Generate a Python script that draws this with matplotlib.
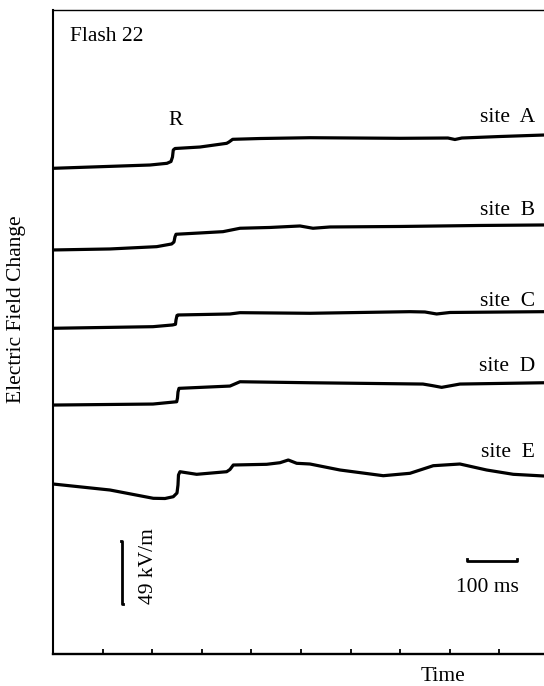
import matplotlib
matplotlib.use("Agg")
import matplotlib.pyplot as plt
import numpy as np

# ---- data (time in ms, field change in kV/m relative to trace start) ----
site_names = ["site  A", "site  B", "site  C", "site  D", "site  E"]

t_A = [0, 195.6, 229.8, 237.9, 240.9, 242.5, 246, 296.4, 350.2, 354.8, 362.3,
       417.3, 518.1, 699.6, 796.3, 810.4, 824.4, 901.2, 989.9]
e_A = [0, 2.57, 3.89, 5.29, 8.79, 14.23, 15.40, 16.56, 19.44, 20.45, 22.55,
       23.17, 23.79, 23.33, 23.56, 22.40, 23.56, 24.73, 25.89]

t_B = [0, 114.9, 209.1, 239.3, 243.9, 245.9, 248, 296.4, 342.7, 377, 437.5,
       498, 524.2, 558.4, 699.6, 860.9, 989.9]
e_B = [0, 0.78, 2.57, 4.67, 6.22, 10.11, 12.21, 13.22, 14.23, 16.88, 17.50,
       18.66, 16.88, 17.88, 18.27, 19.05, 19.44]

t_C = [0, 201.6, 240.9, 247, 248, 250, 252, 356.8, 377, 518.1, 719.7, 749.9,
       773.5, 800.6, 989.9]
e_C = [0, 1.24, 2.57, 3.11, 6.45, 9.95, 10.34, 11.12, 12.13, 11.66, 12.91,
       12.67, 11.12, 12.29, 12.91]

t_D = [0, 201.6, 249.4, 251, 252, 254, 356.8, 377, 518.1, 745.9, 764.1,
       783.6, 820.5, 989.9]
e_D = [0, 0.78, 2.57, 5.44, 10.11, 12.99, 14.77, 18.12, 17.34, 16.33, 15.16,
       13.76, 16.33, 17.34]

t_E = [0, 114.9, 202.2, 225.8, 242.5, 250, 252, 253, 256, 266.1, 289.7,
       350.2, 356.8, 363.5, 430.9, 457.7, 474.4, 491.4, 518.1, 578.6, 665.9,
       719.7, 766.7, 820.5, 874.3, 928, 989.9]
e_E = [0, -4.67, -11.12, -11.28, -9.88, -7.00, -0.78, 6.99, 9.56, 8.94, 7.54,
       9.56, 11.28, 14.77, 15.32, 16.56, 18.66, 16.10, 15.55, 10.89, 6.45,
       8.32, 14.23, 15.55, 10.89, 7.54, 6.22]

times = [t_A, t_B, t_C, t_D, t_E]
fields = [e_A, e_B, e_C, e_D, e_E]

# vertical stacking offsets of the traces (kV/m)
offsets = [377.7, 314.2, 253.3, 193.6, 132.2]
label_y = [413.4, 341.4, 270.6, 219.7, 152.9]

tick_times = [100, 200, 300, 400, 500, 600, 700, 800, 900]
time_bar = [835, 935]      # 100 ms scale bar
field_bar = [38.9, 87.9]   # 49 kV/m scale bar

# ---- figure ----
plt.rcParams["font.family"] = ["Liberation Serif", "DejaVu Serif"]
fig = plt.figure(figsize=(5.44, 6.86), dpi=100)
ax = fig.add_axes([53 / 544, 32 / 686, 491 / 544, 643.6 / 686])

for t, e, off in zip(times, fields, offsets):
    ax.plot(t, np.array(e) + off, color="black", lw=2.3,
            solid_joinstyle="round", solid_capstyle="round")

fs = 15.5
for name, ly in zip(site_names, label_y):
    ax.text(972, ly, name, ha="right", va="baseline", fontsize=fs)

ax.text(247, 411.4, "R", ha="center", va="baseline", fontsize=fs)
ax.text(34, 476.7, "Flash 22", ha="left", va="baseline", fontsize=fs)

# time scale bar
ax.plot([time_bar[0], time_bar[0], time_bar[1], time_bar[1]],
        [72.6 + 1.5, 72.6, 72.6, 72.6 + 1.5], color="black", lw=2.0)
ax.text(812, 48.4, "100 ms", ha="left", va="baseline", fontsize=fs)

# field scale bar
ax.plot([139.1 - 3, 139.1, 139.1, 139.1 + 3],
        [field_bar[1], field_bar[1], field_bar[0], field_bar[0]],
        color="black", lw=2.0)
ax.text(193.5, 68.2, "49 kV/m", rotation=90, ha="center", va="center",
        fontsize=fs)

ax.set_xlim(0, 990)
ax.set_ylim(0, 500.5)
ax.set_xticks(tick_times)
ax.set_yticks([])
ax.tick_params(axis="x", direction="in", length=3.5, width=1.3,
               labelbottom=False)
ax.spines["right"].set_visible(False)
ax.spines["top"].set_linewidth(1.0)
ax.spines["left"].set_linewidth(1.5)
ax.spines["bottom"].set_linewidth(1.7)

fig.text(443 / 544, 1 - 681 / 686, "Time", ha="center", va="baseline",
         fontsize=fs)
fig.text(17 / 544, 1 - 309 / 686, "Electric Field Change", rotation=90,
         ha="center", va="center", fontsize=fs)

fig.savefig("out.png", dpi=100)
